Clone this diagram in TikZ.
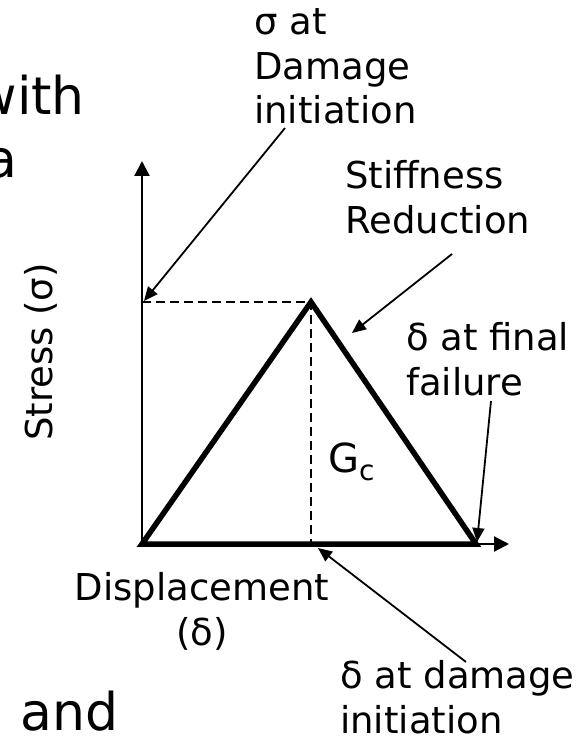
\documentclass[tikz,border=0pt]{standalone}
\usepackage{fontspec}
\setmainfont{DejaVu Sans}
\usetikzlibrary{arrows.meta}

\begin{document}
\begin{tikzpicture}[
        x=1pt, y=-1pt,
        every node/.style={font=\fontsize{37pt}{44.5pt}\selectfont, inner sep=0pt},
        note/.style={align=left, anchor=base west},
        slide/.style={font=\fontsize{52pt}{60pt}\selectfont},
        axis/.style={
            -{Triangle[length=15pt,width=15pt]},
            line width=2.2pt
        },
        curve/.style={line width=5.5pt, line join=miter},
        guide/.style={line width=2pt, dash pattern=on 9pt off 5pt},
        pointer/.style={
            -{Triangle[length=14pt,width=12pt]},
            line width=1.8pt
        }
    ]

    \clip (0,0) rectangle (579,738);

    % slide text cut off at the left edge
    \node[slide, anchor=base east] (with) at (85,115) {with};
    \node[slide, anchor=base east] (a) at (18,178) {a};
    \node[slide, anchor=base west] (and) at (20,730) {and};

    % curve points
    \coordinate (origin) at (142,544);
    \coordinate (ytop) at (142,161);
    \coordinate (xend) at (509,544);
    \coordinate (peak) at (311,302);
    \coordinate (final) at (476,544);
    \coordinate (sigmay) at (142,302);
    \coordinate (peakfoot) at (311,544);

    \draw[axis] (origin) -- (ytop);
    \draw[axis] (origin) -- (xend);
    \draw[guide] (sigmay) -- (peak) -- (peakfoot);
    \draw[curve] (origin) -- (peak) -- (final) -- cycle;

    % labels (base = last line)
    \node[note] (siglab) at (254,124) {σ at\\Damage\\initiation};
    \node[note] (stiflab) at (345,233) {Stiffness\\Reduction};
    \node[note] (faillab) at (406,395) {δ at final\\failure};
    \node[note] (dmglab) at (340,733) {δ at damage\\initiation};
    \node[align=center, anchor=base] (displab) at (202,645)
        {Displacement\\(δ)};
    \node[rotate=90, anchor=base] (stresslab) at (52,352) {Stress (σ)};
    \node[anchor=base west, font=\fontsize{40pt}{48pt}\selectfont] (gc)
        at (328,472) {G\raisebox{-8pt}{\fontsize{28pt}{30pt}\selectfont c}};

    % pointer ends
    \coordinate (sigtail) at (285,128);
    \coordinate (sigtip) at (144,301);
    \coordinate (stiftail) at (452,254);
    \coordinate (stiftip) at (352,333);
    \coordinate (failtail) at (491,401);
    \coordinate (failtip) at (477,542);
    \coordinate (dmgtail) at (466,662);
    \coordinate (dmgtip) at (318,548);

    \draw[pointer] (sigtail) -- (sigtip);
    \draw[pointer] (stiftail) -- (stiftip);
    \draw[pointer] (failtail) -- (failtip);
    \draw[pointer] (dmgtail) -- (dmgtip);

\end{tikzpicture}
\end{document}
